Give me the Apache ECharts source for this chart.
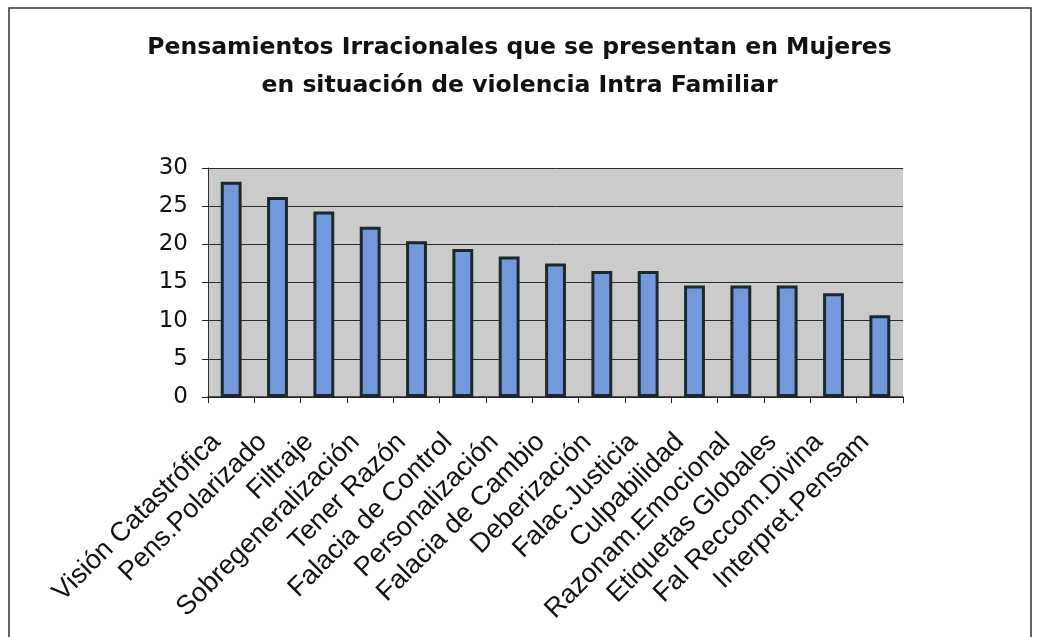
<!DOCTYPE html>
<html>
<head>
<meta charset="utf-8">
<title>Pensamientos Irracionales</title>
<script src="https://cdn.jsdelivr.net/npm/echarts@6/dist/echarts.min.js"></script>
<style>
  html, body { margin: 0; padding: 0; background: #fff; }
  #chart { width: 1039px; height: 637px; }
</style>
</head>
<body>
<div id="chart"></div>
<script>
// categorías (eje x)
const categorias = [
  'Visión Catastrófica', 'Pens.Polarizado', 'Filtraje', 'Sobregeneralización',
  'Tener Razón', 'Falacia de Control', 'Personalización', 'Falacia de Cambio',
  'Deberización', 'Falac.Justicia', 'Culpabilidad', 'Razonam.Emocional',
  'Etiquetas Globales', 'Fal Reccom.Divina', 'Interpret.Pensam'
]
// porcentajes
const valores = [28.2, 26.2, 24.3, 22.3, 20.4, 19.4, 18.4, 17.5, 16.5, 16.5, 14.6, 14.6, 14.6, 13.6, 10.7]
const ticksY = { min: 0, max: 30, interval: 5 }

const chart = echarts.init(document.getElementById('chart'))
chart.setOption({
  animation: false,
  backgroundColor: '#ffffff',
  title: {
    text: 'Pensamientos Irracionales que se presentan en Mujeres\nen situación de violencia Intra Familiar',
    left: 'center',
    top: 24,
    textStyle: {
      fontFamily: 'DejaVu Sans',
      fontWeight: 'bold',
      fontSize: 23.5,
      lineHeight: 38,
      color: '#111'
    }
  },
  graphic: [
    {
      // marco exterior
      type: 'rect',
      shape: { x: 9, y: 8, width: 1022, height: 660 },
      style: { fill: 'none', stroke: '#333', lineWidth: 1.5 },
      silent: true
    }
  ],
  grid: {
    left: 208,
    right: 136,
    top: 168,
    bottom: 240,
    show: true,
    backgroundColor: '#cbcbcb',
    borderWidth: 0
  },
  xAxis: {
    type: 'category',
    data: categorias,
    axisLine: { lineStyle: { color: '#222', width: 1.5 } },
    axisTick: { show: true, length: 6, lineStyle: { color: '#222' } },
    axisLabel: {
      rotate: 45,
      interval: 0,
      margin: 26,
      padding: [0, 21, 0, 0],
      fontFamily: 'Liberation Sans',
      fontSize: 27,
      color: '#111'
    }
  },
  yAxis: {
    type: 'value',
    min: ticksY.min,
    max: ticksY.max,
    interval: ticksY.interval,
    axisLine: { show: true, lineStyle: { color: '#333', width: 1 } },
    axisTick: { show: true, length: 6, lineStyle: { color: '#222' } },
    axisLabel: {
      margin: 20,
      fontFamily: 'DejaVu Sans',
      fontSize: 23,
      color: '#111'
    },
    splitLine: { lineStyle: { color: '#2b2b2b', width: 1 } }
  },
  series: [
    {
      type: 'bar',
      data: valores,
      barWidth: '45%',
      itemStyle: {
        color: '#7398dc',
        borderColor: '#1b282c',
        borderWidth: 3
      }
    }
  ]
})
</script>
</body>
</html>
